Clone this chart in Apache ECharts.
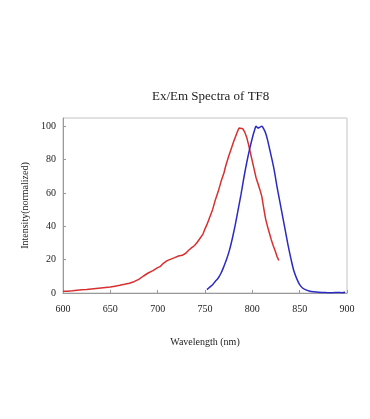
<!DOCTYPE html>
<html>
<head>
<meta charset="utf-8">
<script src="https://cdn.jsdelivr.net/npm/echarts@6/dist/echarts.min.js"></script>
<style>
html,body{margin:0;padding:0;background:#fff;}
#chart{width:370px;height:419px;}
</style>
</head>
<body>
<div id="chart"></div>
<script>
var titleText = "Ex/Em Spectra of TF8";
var xAxisName = "Wavelength (nm)";
var yAxisName = "Intensity(normalized)";

// Excitation (red)
var exWavelength = [600,605,610,615,620,625,630,635,640,645,650,655,660,665,670,675,680,685,690,695,700,703,706,708,710,712,714,716,718,720,722,724,726,728,730,733,736,739,742,745,748,750,752,755,758,761,764,767,770,772,775,778,780,782,784,786,787,788,790,792,794,796,798,800,802,804,806,808,810,812,814,816,818,820,822,824,826,828];
var exIntensity  = [1,1.1,1.3,1.6,1.9,2.1,2.4,2.7,3.0,3.3,3.6,4.1,4.6,5.2,5.9,6.8,8.2,10.2,12.0,13.4,15.2,16.0,17.8,18.6,19.4,19.0,20.3,20.0,21.2,21.0,22.2,21.8,22.6,22.3,24.0,25.8,27.2,28.5,30.6,33.0,35.5,38.5,41.0,45.5,50.0,56.0,61.0,67.0,72.0,76.5,82.0,87.0,90.5,93.5,96.5,99.0,100,99.5,98.5,96.5,93.5,89.0,84.0,79.0,74.0,69.0,65.5,62.0,58.0,51.0,44.5,40.0,36.0,32.0,28.5,25.5,22.0,19.5];

// Emission (blue)
var emWavelength = [752,755,758,761,764,767,770,773,776,779,782,785,788,791,794,797,800,802,804,806,808,810,812,814,816,818,820,823,826,829,832,835,838,841,844,847,850,853,856,860,865,870,875,880,885,890,895,898];
var emIntensity  = [2,3.5,5,7,9,12,16,20.5,26,33,41,50,59,69,78,86,93,97,100,99,99.5,100,98.5,96,92,87,82,74,64,55,46,37,28,20,13,8.5,5,3,2,1.2,0.7,0.4,0.3,0.2,0.2,0.3,0.2,0.5];

function pairs(xs, ys){ var out=[]; for(var i=0;i<xs.length;i++) out.push([xs[i], ys[i]]); return out; }

var font = '"Liberation Serif", "Times New Roman", serif';
var chart = echarts.init(document.getElementById('chart'), null, {renderer:'canvas'});
chart.setOption({
  animation:false,
  backgroundColor:'#ffffff',
  title:{
    text:titleText, left:147, top:85,
    textStyle:{fontFamily:font, fontSize:13, fontWeight:'normal', color:'#222'}
  },
  grid:{left:63, right:23, top:118, bottom:126, show:true, borderColor:'#c4c4c4', borderWidth:1},
  xAxis:{
    type:'value', min:600, max:900, interval:50,
    name:xAxisName, nameLocation:'middle', nameGap:44,
    nameTextStyle:{fontFamily:font, fontSize:10, color:'#222'},
    axisLine:{show:true, lineStyle:{color:'#999'}},
    axisTick:{show:true, inside:true, length:3, lineStyle:{color:'#999'}},
    axisLabel:{fontFamily:font, fontSize:10, color:'#222', margin:11},
    splitLine:{show:false}
  },
  yAxis:{
    type:'value', min:0, max:105, interval:20,
    name:yAxisName, nameLocation:'middle', nameGap:33, nameRotate:90,
    nameTextStyle:{fontFamily:font, fontSize:10, color:'#222'},
    axisLine:{show:true, lineStyle:{color:'#999'}},
    axisTick:{show:true, inside:true, length:3, lineStyle:{color:'#999'}},
    axisLabel:{fontFamily:font, fontSize:10, color:'#222', margin:7, showMaxLabel:false},
    splitLine:{show:false}
  },
  series:[
    {type:'line', data:pairs(exWavelength, exIntensity), showSymbol:false, smooth:false,
     lineStyle:{color:'#d83030', width:1.5}},
    {type:'line', data:pairs(emWavelength, emIntensity), showSymbol:false, smooth:0.3,
     lineStyle:{color:'#2a2ac4', width:1.5}}
  ]
});
</script>
</body>
</html>
